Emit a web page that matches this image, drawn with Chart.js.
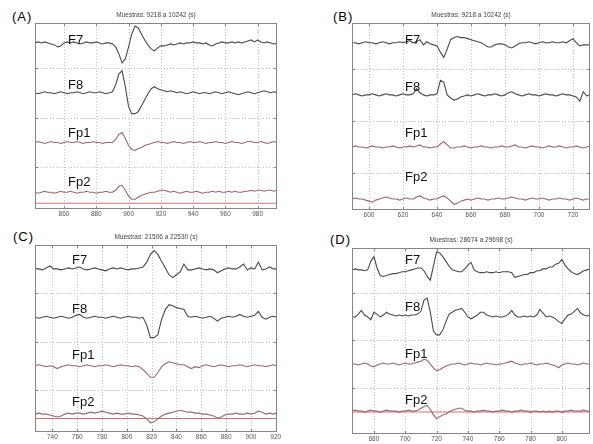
<!DOCTYPE html>
<html>
<head>
<meta charset="utf-8">
<script src="https://cdn.jsdelivr.net/npm/chart.js@4/dist/chart.umd.min.js"></script>
<style>
  html, body { margin: 0; padding: 0; background: #fff; }
  body { width: 593px; height: 444px; position: relative; overflow: hidden; font-family: "Liberation Sans", Arial, sans-serif; }
  .panel { position: absolute; }
  .tag { position: absolute; font-size: 13px; line-height: 13px; letter-spacing: 1px; color: #000; }
</style>
</head>
<body>
<div class="tag" style="left:12px;top:10px">(A)</div>
<div class="tag" style="left:333px;top:10px">(B)</div>
<div class="tag" style="left:13px;top:230px">(C)</div>
<div class="tag" style="left:330px;top:233px">(D)</div>

<div class="panel" style="left:0;top:0;width:293px;height:222px"><canvas id="chartA"></canvas></div>
<div class="panel" style="left:293px;top:0;width:300px;height:222px"><canvas id="chartB"></canvas></div>
<div class="panel" style="left:0;top:222px;width:293px;height:222px"><canvas id="chartC"></canvas></div>
<div class="panel" style="left:293px;top:222px;width:300px;height:222px"><canvas id="chartD"></canvas></div>

<script>
const FONT = '"Liberation Sans", Arial, sans-serif';
const channels = ['F7', 'F8', 'Fp1', 'Fp2'];
const SPACING = 50; // vertical offset between channels (display units)

// ---- panel A: muestras 9218 a 10242 ----
const titleA = 'Muestras: 9218 a 10242 (s)';
const startA = 842, stepA = 2;
const xRangeA = [842, 992];
const yRangeA = [-17, 170];
const ticksA = [860, 880, 900, 920, 940, 960, 980];
const refA = -11;
const f7A = [
  0, 1, 0, 1, 0, -1, -2, -4, -3, 0,
  1, 0, 1, 0, -1, 0, 1, 0, 0, 1,
  0, -1, 0, 0, -1, -4, -11, -20, -16, -4,
  9, 17, 15, 9, 3, -2, -6, -8, -5, -3,
  -3, -2, -1, -2, -1, 0, -1, 0, 0, 1,
  0, 0, -1, 0, -2, -3, -1, 0, 1, 0,
  0, 1, 0, 1, 0, 1, 2, 3, 1, 3,
  1, 0, 1, 0, -1, 0
];
const f8A = [
  0, -1, 0, 1, 0, 0, -1, 0, 1, 0,
  -1, 0, 0, 1, 0, -1, 0, 1, 0, 0,
  1, 0, -1, 0, 1, 8, 19, 22, 6, -14,
  -21, -21, -19, -13, -7, -1, 4, 6, 4, 3,
  2, 1, 2, 1, 0, 1, 0, -1, 0, 1,
  0, -1, 0, 0, -1, 0, 1, 0, -1, 0,
  1, 0, -1, -2, -1, 0, 1, 0, -1, 0,
  1, 2, 1, 0, 1, 0
];
const fp1A = [
  0, 1, 0, -1, 0, 1, 0, 0, -1, 0,
  1, 0, 0, 1, 0, -1, 0, 0, 1, 0,
  0, -1, 0, 0, 0, 3, 8, 10, 4, -3,
  -7, -8, -6, -5, -3, -2, -1, 0, 1, 0,
  0, -1, 0, 1, 0, 0, -1, 0, 1, 0,
  0, 1, 0, -1, 0, 0, 1, 0, 0, -1,
  0, 1, 0, 0, -1, 0, 1, 1, 0, 0,
  1, 0, -1, 0, 1, 0
];
const fp2A = [
  0, -1, 0, 1, 0, 0, -1, 0, 1, 0,
  0, 1, 0, -1, 0, 0, 1, 0, 0, -1,
  0, 0, 1, 0, 0, 2, 6, 7, 2, -4,
  -7, -7, -5, -3, -2, -1, 0, 0, 1, 2,
  2, 1, 0, 1, 0, -1, 0, 1, 0, 0,
  1, 0, -1, 0, 0, 1, 0, 1, 0, 0,
  1, 0, 1, 0, 0, 1, 1, 2, 1, 2,
  2, 1, 2, 2, 1, 2
];

// ---- panel B ----
const titleB = 'Muestras: 9218 a 10242 (s)';
const startB = 590, stepB = 2;
const xRangeB = [590, 730];
const yRangeB = [-10.5, 169];
const ticksB = [600, 620, 640, 660, 680, 700, 720];
const refB = null;
const f7B = [
  0, 0, -1, 0, 1, 0, 0, -1, 0, 1,
  0, -1, 0, 0, 1, 0, 1, 2, 0, 1,
  3, -2, 1, -1, -2, -3, -9, -14, -6, 3,
  5, 6, 5, 5, 4, 3, 2, 1, 0, -2,
  -4, -4, -2, -1, -1, -2, -4, -5, -3, -1,
  0, 0, 1, 0, -1, 0, 1, 0, 0, 1,
  0, 0, 1, 0, 2, 4, 0, -3, -2, -2,
  -2
];
const f8B = [
  0, 1, 0, -1, 0, 0, 1, 0, -1, 0,
  1, 0, 0, -1, 0, 1, 0, 0, 1, 6,
  2, 0, -1, 0, 0, 1, 14, 12, 0, -3,
  -5, -4, -2, -1, 0, -1, 0, 1, 0, -1,
  0, 0, 1, 0, -1, 0, 2, 3, 1, 0,
  -1, 0, 1, 0, 0, -1, 0, 1, 0, 0,
  -1, 0, 1, 0, 0, -1, -2, -6, 3, -1,
  0
];
const fp1B = [
  0, 1, 0, 0, -1, 0, 1, 0, 0, -1,
  0, 0, 1, 0, -1, 0, 0, 1, 0, 1,
  2, 0, 0, -1, 0, 0, 3, 5, 2, -1,
  -1, 0, 0, 1, 0, -1, 0, 0, 1, 0,
  0, -1, 0, 0, 1, 0, 0, 1, 2, 0,
  0, -1, 0, 1, 0, 0, -1, 0, 1, 0,
  0, 1, 0, -1, 0, 0, 1, 0, -1, 0,
  1
];
const fp2B = [
  0, 1, 0, 0, -1, -2, -3, -1, 0, 1,
  2, 1, 0, 0, -1, 0, 1, 0, 0, 2,
  3, 1, 0, -1, 0, 0, 2, 3, 1, -2,
  -5, -4, -2, -1, 0, -1, 0, 1, 0, 0,
  -1, 0, 0, 1, 0, 0, 1, 2, 1, 0,
  0, -1, 0, 1, 0, 0, 1, 0, -1, 0,
  0, 1, 0, 0, -1, 0, 1, 0, -1, 0,
  0
];

// ---- panel C ----
const titleC = 'Muestras: 21506 a 22530 (s)';
const startC = 726, stepC = 3;
const xRangeC = [726, 921];
const yRangeC = [-18.5, 174.7];
const ticksC = [740, 760, 780, 800, 820, 840, 860, 880, 900, 920];
const refC = -4.5;
const f7C = [
  0, 0, -1, 1, 3, 0, 0, -1, 0, 1,
  0, 1, 2, 0, -1, 0, 1, 0, -1, -2,
  0, 1, 0, 1, 0, -1, 0, 0, 1, 2,
  7, 15, 19, 15, 8, 1, -6, -9, -6, -3,
  5, -1, -1, 0, 1, 0, -1, 0, -1, -4,
  -2, 0, 1, 0, 0, 2, 5, -1, 1, 0,
  7, -1, 0, 2, 0, 0
];
const f8C = [
  0, -1, 0, 1, 0, -1, 0, 1, 0, -1,
  0, 2, 3, 0, -1, 0, 1, 0, 0, -1,
  0, 1, 0, -1, 0, 1, 0, 0, -1, 0,
  -8, -21, -21, -18, -2, 8, 13, 12, 10, 9,
  8, 1, 0, 1, 0, -1, 0, 1, -1, -4,
  -1, 0, 1, 0, 1, 3, 1, 0, 1, 2,
  6, 0, -2, 0, 1, 0
];
const fp1C = [
  0, 1, 0, -1, 0, -1, -3, -1, 0, 1,
  0, 0, -1, 0, 1, 0, -1, 0, 0, 1,
  0, -1, 0, 1, 0, 0, -1, 0, -1, -4,
  -8, -12, -12, -7, -1, 2, 4, 3, 2, 1,
  1, -1, -3, -1, -2, 0, 1, 0, -1, 0,
  1, 0, -1, 0, 0, 1, 0, -1, 0, 1,
  0, 0, -1, 0, 1, 0
];
const fp2C = [
  0, 1, 0, 0, -1, -2, -3, -2, 0, 1,
  0, 1, 1, 0, 1, 2, 1, 2, 3, 2,
  1, 0, 1, 0, 0, 1, 0, 0, -1, -2,
  -5, -9, -8, -5, -2, 0, 1, 2, 3, 4,
  3, 2, 2, 1, 1, 0, 0, -1, -2, -4,
  -3, -1, 0, 0, 1, 0, 0, 1, 0, 1,
  3, 2, 0, 1, 0, 1
];

// ---- panel D ----
const titleD = 'Muestras: 28674 a 29698 (s)';
const startD = 666, stepD = 2;
const xRangeD = [666, 818];
const yRangeD = [-24.3, 173.2];
const ticksD = [680, 700, 720, 740, 760, 780, 800];
const refD = -1;
const f7D = [
  0, 1, 0, 0, -1, 0, 9, 14, 2, -6,
  -7, -6, -5, -4, -4, -3, -2, -2, -1, 0,
  1, 2, 2, -1, -7, -11, 4, 19, 18, 14,
  9, 4, 0, -1, -2, -2, 1, 5, 8, 0,
  -2, -3, -3, -2, -3, -3, -2, -3, -2, -2,
  -2, -3, -8, -7, -6, -5, -5, -3, -3, -1,
  -1, 1, 1, 3, 3, 6, 7, 11, 5, 1,
  -2, -4, -5, -3, -1, 0, 1
];
const f8D = [
  0, 0, 3, 7, 2, 0, -3, 5, 3, 0,
  2, 5, 3, 2, 1, 2, 1, 2, 1, 2,
  2, 3, 6, 18, 20, 5, -15, -19, -19, -14,
  -5, 3, 5, 7, 8, 9, 5, 0, -2, 0,
  2, 5, 5, 2, 1, 0, 1, 0, 0, 1,
  3, 7, 2, 0, 0, 1, 0, 1, 0, 2,
  8, 4, 0, 1, 0, -2, -5, -7, -2, 2,
  3, 6, 9, 4, 2, 1, 2
];
const fp1D = [
  0, 0, -1, 0, 1, 0, -2, -3, -1, 0,
  1, 0, 0, 1, 0, -1, 0, 1, 0, 0,
  1, 2, 3, 5, 4, 0, -4, -7, -6, -4,
  -2, -1, 0, 0, 1, 0, -1, 0, 1, 0,
  0, -1, 0, 1, 0, 0, -1, 0, 0, 1,
  2, 3, 1, 0, -1, 0, 0, 1, 0, -1,
  0, 0, 1, 0, -1, -2, -4, -1, 0, 1,
  0, 0, -1, 0, 1, 0, 0
];
const fp2D = [
  0, 1, 0, 0, -1, 0, 1, 0, 0, -1,
  0, 1, 0, 0, 0, -1, 0, 0, 1, 0,
  0, 1, 3, 5, 6, 2, -4, -8, -6, -4,
  -3, -1, 1, 2, 3, 3, 1, 0, 0, -1,
  0, 0, 1, 0, 0, -1, 0, 0, 1, 0,
  0, -1, 0, 0, 1, 0, 0, -1, 0, 0,
  -1, 0, -1, 0, -1, 0, 0, -1, 0, 0,
  1, 0, 0, 0, 1, 0, 0
];

// grid rows sit halfway between channel baselines
const gridY = [0.5, 1.5, 2.5].map(k => k * SPACING);

function framePlugin(cfg) {
  return {
    id: 'eegFrame',
    beforeDatasetsDraw(chart) {
      const { ctx, chartArea: a, scales: { x, y } } = chart;
      ctx.save();
      ctx.strokeStyle = '#c4c4c4';
      ctx.lineWidth = 1;
      ctx.setLineDash([1, 2]);
      ctx.beginPath();
      cfg.ticks.forEach(v => {
        const px = Math.round(x.getPixelForValue(v)) + 0.5;
        ctx.moveTo(px, a.top); ctx.lineTo(px, a.bottom);
      });
      gridY.forEach(v => {
        const py = Math.round(y.getPixelForValue(v)) + 0.5;
        ctx.moveTo(a.left, py); ctx.lineTo(a.right, py);
      });
      ctx.stroke();
      ctx.restore();
    },
    afterDatasetsDraw(chart) {
      const { ctx, chartArea: a, scales: { x, y } } = chart;
      ctx.save();
      // box
      ctx.strokeStyle = '#858585';
      ctx.lineWidth = 1;
      ctx.strokeRect(Math.round(a.left) + 0.5, Math.round(a.top) + 0.5,
        Math.round(a.right - a.left) - 1, Math.round(a.bottom - a.top) - 1);
      // inner tick marks
      ctx.beginPath();
      cfg.ticks.forEach(v => {
        const px = Math.round(x.getPixelForValue(v)) + 0.5;
        ctx.moveTo(px, a.bottom); ctx.lineTo(px, a.bottom - 3);
        ctx.moveTo(px, a.top); ctx.lineTo(px, a.top + 3);
      });
      gridY.forEach(v => {
        const py = Math.round(y.getPixelForValue(v)) + 0.5;
        ctx.moveTo(a.left, py); ctx.lineTo(a.left + 3, py);
        ctx.moveTo(a.right, py); ctx.lineTo(a.right - 3, py);
      });
      ctx.stroke();
      // title
      ctx.fillStyle = '#444';
      ctx.font = '6.5px ' + FONT;
      ctx.textAlign = 'center';
      ctx.textBaseline = 'middle';
      ctx.fillText(cfg.title, (a.left + a.right) / 2, a.top - 8);
      // channel names
      ctx.fillStyle = '#111';
      ctx.font = '13px ' + FONT;
      ctx.textAlign = 'left';
      ctx.textBaseline = 'alphabetic';
      channels.forEach((name, k) => {
        ctx.fillText(name, a.left + cfg.labelX, a.top + cfg.labelY[k]);
      });
      ctx.restore();
    }
  };
}

function buildChart(id, cfg) {
  const n = channels.length;
  const datasets = cfg.series.map((vals, k) => ({
    label: channels[k],
    data: vals.map((v, i) => ({ x: cfg.start + cfg.step * i, y: (n - 1 - k) * SPACING + v })),
    borderColor: k < 2 ? '#4a4a4a' : '#9a6670',
    borderWidth: 1.1,
    pointRadius: 0,
    tension: 0,
    fill: false
  }));
  if (cfg.ref !== null) {
    datasets.push({
      label: 'ref',
      data: [{ x: cfg.xRange[0], y: cfg.ref }, { x: cfg.xRange[1], y: cfg.ref }],
      borderColor: '#d3707d',
      borderWidth: 1.1,
      pointRadius: 0
    });
  }

  return new Chart(document.getElementById(id), {
    type: 'line',
    data: { datasets },
    options: {
      responsive: true,
      maintainAspectRatio: false,
      animation: false,
      devicePixelRatio: 1,
      layout: { padding: cfg.pad },
      scales: {
        x: {
          type: 'linear',
          min: cfg.xRange[0],
          max: cfg.xRange[1],
          grid: { display: false, drawTicks: false, tickLength: 0 },
          border: { display: false },
          afterBuildTicks: s => { s.ticks = cfg.ticks.map(v => ({ value: v })); },
          ticks: {
            autoSkip: false,
            maxRotation: 0,
            padding: 1,
            color: '#555',
            font: { family: FONT, size: 6.5 },
            callback: v => String(v)
          }
        },
        y: {
          min: cfg.yRange[0],
          max: cfg.yRange[1],
          grid: { display: false, drawTicks: false, tickLength: 0 },
          border: { display: false },
          ticks: { display: false, padding: 0 }
        }
      },
      plugins: {
        legend: { display: false },
        tooltip: { enabled: false },
        title: { display: false }
      }
    },
    plugins: [framePlugin(cfg)]
  });
}

buildChart('chartA', {
  title: titleA, start: startA, step: stepA, xRange: xRangeA, yRange: yRangeA,
  ticks: ticksA, ref: refA, series: [f7A, f8A, fp1A, fp2A],
  pad: { left: 35, right: 16, top: 23, bottom: 3 },
  labelX: 33, labelY: [21, 66, 114, 163]
});
buildChart('chartB', {
  title: titleB, start: startB, step: stepB, xRange: xRangeB, yRange: yRangeB,
  ticks: ticksB, ref: refB, series: [f7B, f8B, fp1B, fp2B],
  pad: { left: 59, right: 3, top: 23, bottom: 2.2 },
  labelX: 53, labelY: [21, 68, 114, 158]
});
buildChart('chartC', {
  title: titleC, start: startC, step: stepC, xRange: xRangeC, yRange: yRangeC,
  ticks: ticksC, ref: refC, series: [f7C, f8C, fp1C, fp2C],
  pad: { left: 35, right: 16, top: 23, bottom: 2.2 },
  labelX: 37, labelY: [19, 68, 114, 161]
});
buildChart('chartD', {
  title: titleD, start: startD, step: stepD, xRange: xRangeD, yRange: yRangeD,
  ticks: ticksD, ref: refD, series: [f7D, f8D, fp1D, fp2D],
  pad: { left: 59, right: 3, top: 26, bottom: 0.2 },
  labelX: 53, labelY: [16, 63, 110, 156]
});
</script>
</body>
</html>
